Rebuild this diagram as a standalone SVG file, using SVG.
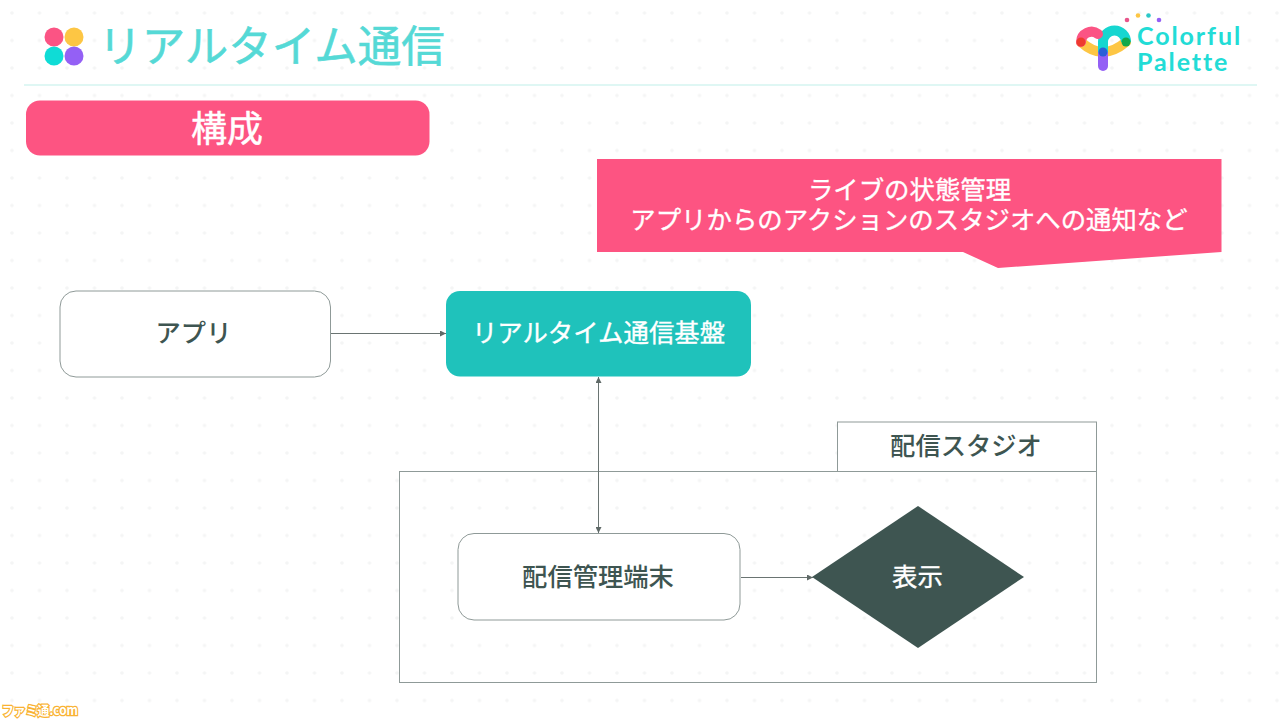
<svg xmlns="http://www.w3.org/2000/svg" width="1280" height="719" viewBox="0 0 1280 719">
<style>
text{font-family:"Noto Sans CJK JP","Noto Sans",sans-serif;text-anchor:middle}
.lbl{font-size:25.300px;font-weight:500;fill:#3e5551}
.wht{font-size:25.400px;font-weight:400;fill:#fff;stroke:#fff;stroke-width:.35px}
.box{fill:#fff;stroke:#8f9a98;stroke-width:1}
.con{fill:none;stroke:#6a7472;stroke-width:1}
.logo{font-family:"Lato","Noto Sans",sans-serif;font-weight:700;font-size:25px;fill:#22dcd6;text-anchor:start;letter-spacing:1.900px}
</style>
<defs>
<pattern id="dots" x="12" y="13" width="27.500" height="27.500" patternUnits="userSpaceOnUse"><circle cx="0" cy="0" r="1.800" fill="#f4f5f5"/><circle cx="27.500" cy="0" r="1.800" fill="#f4f5f5"/><circle cx="0" cy="27.500" r="1.800" fill="#f4f5f5"/><circle cx="27.500" cy="27.500" r="1.800" fill="#f4f5f5"/></pattern>
<marker id="arr" markerWidth="7" markerHeight="6" refX="6" refY="3" orient="auto-start-reverse" markerUnits="userSpaceOnUse"><path d="M0 0L6 3L0 6z" fill="#5f6967"/></marker>
</defs>
<rect width="1280" height="719" fill="#fff"/>
<rect width="1280" height="719" fill="url(#dots)"/>
<g id="header">
<circle cx="54" cy="37" r="9.500" fill="#fb5484"/><circle cx="74" cy="37" r="9.500" fill="#fdc644"/><circle cx="54" cy="56" r="9.500" fill="#0fdcd6"/><circle cx="74" cy="56" r="9.500" fill="#9460f5"/>
<text x="271.500" y="61.500" font-weight="400" fill="#55d9d6" stroke="#55d9d6" stroke-width=".6" style="font-size:43.500px">リアルタイム通信</text>
<line x1="24" y1="85" x2="1257" y2="85" stroke="#bff0ea" stroke-width="1.200"/>
</g>
<g id="logo">
<circle cx="1127" cy="20" r="2.300" fill="#e8558a"/><circle cx="1138" cy="15.500" r="2.300" fill="#fdc644"/><circle cx="1148.500" cy="15.500" r="2.300" fill="#2cc8c8"/><circle cx="1159" cy="20" r="2.300" fill="#9460f5"/>
<path d="M1081 42Q1092 52 1103 52Q1114 52 1126 42" stroke="#fdc644" stroke-width="10" stroke-linecap="round" fill="none"/>
<path d="M1103 52V66" stroke="#9460f5" stroke-width="10" stroke-linecap="round" fill="none"/>
<path d="M1103 52V42A11.500 11.500 0 0 1 1126 42" stroke="#16d6d0" stroke-width="10" fill="none"/>
<path d="M1081 42A10.500 10.500 0 0 1 1098 34" stroke="#fb5484" stroke-width="10" stroke-linecap="round" fill="none"/>
<circle cx="1081" cy="42" r="4.500" fill="#ee3b2e"/><circle cx="1126" cy="42" r="4.500" fill="#12a84a"/><circle cx="1103" cy="52" r="4.500" fill="#2a5fd8"/>
<text class="logo" x="1137" y="45">Colorful</text>
<text class="logo" x="1137" y="70.500">Palette</text>
</g>
<g id="section">
<rect x="26" y="100.500" width="403.500" height="55" rx="14" fill="#fd5482"/>
<text x="227" y="142" fill="#fff" stroke="#fff" stroke-width=".5" font-weight="400" style="font-size:36px">構成</text>
</g>
<g id="callout">
<path d="M597 159H1221.500V252L998 268L963 252H597Z" fill="#fd5482"/>
<text class="wht" x="909.500" y="199">ライブの状態管理</text>
<text class="wht" x="909" y="229">アプリからのアクションのスタジオへの通知など</text>
</g>
<g id="studio">
<rect x="399.500" y="471.500" width="697" height="211" fill="none" stroke="#8f9a98"/>
<rect x="837.500" y="422" width="259" height="49.500" fill="#fff" stroke="#8f9a98"/>
<text class="lbl" x="966" y="455">配信スタジオ</text>
</g>
<g id="connectors">
<line class="con" x1="331" y1="333.500" x2="446" y2="333.500" marker-end="url(#arr)"/>
<line class="con" x1="598.500" y1="377" x2="598.500" y2="533" marker-start="url(#arr)" marker-end="url(#arr)"/>
<line class="con" x1="741" y1="577.500" x2="813" y2="577.500" marker-end="url(#arr)"/>
</g>
<g id="app">
<rect class="box" x="60" y="291" width="270.500" height="86" rx="16"/>
<text class="lbl" x="193.500" y="342">アプリ</text>
</g>
<g id="platform">
<rect x="446" y="291" width="305" height="85.500" rx="14" fill="#1fc2bb"/>
<text class="wht" x="598.500" y="342">リアルタイム通信基盤</text>
</g>
<g id="terminal">
<rect class="box" x="458" y="533.500" width="282" height="86.500" rx="16"/>
<text class="lbl" x="598" y="586">配信管理端末</text>
</g>
<g id="display">
<polygon points="918,506 1024,577 918,648 812,577" fill="#3e5551"/>
<text class="wht" x="917.500" y="586">表示</text>
</g>
<g id="watermark">
<text x="40" y="715" fill="#fff" stroke="#f9b233" stroke-width="2.500" paint-order="stroke" font-weight="700" textLength="76" lengthAdjust="spacingAndGlyphs" style="font-size:13px">ファミ通.com</text>
</g>
</svg>
